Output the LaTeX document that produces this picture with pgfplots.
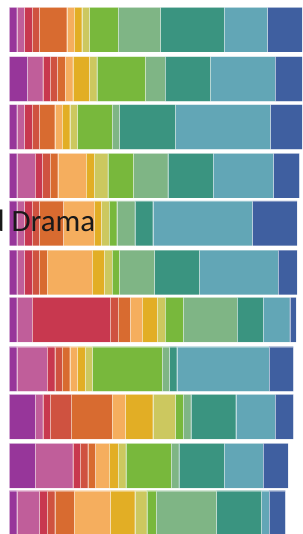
\documentclass[border=0pt]{standalone}
\usepackage{pgfplots}
\usepackage{pgfplotstable}
\pgfplotsset{compat=1.18}
\usepackage{fontspec}
\setmainfont{Carlito}
\definecolor{s1}{HTML}{97369A}
\definecolor{s2}{HTML}{C05E9A}
\definecolor{s3}{HTML}{C8384F}
\definecolor{s4}{HTML}{CF5240}
\definecolor{s5}{HTML}{D86B30}
\definecolor{s6}{HTML}{F5AE5E}
\definecolor{s7}{HTML}{E2AE25}
\definecolor{s8}{HTML}{CCC85F}
\definecolor{s9}{HTML}{78B83C}
\definecolor{s10}{HTML}{7FB585}
\definecolor{s11}{HTML}{3A9480}
\definecolor{s12}{HTML}{62A6B6}
\definecolor{s13}{HTML}{3F5FA0}
\pgfplotstableread{
y c1 c2 c3 c4 c5 c6 c7 c8 c9 c10 c11 c12 c13
29.65 7.4 7.6 7.7 7.3 27.4 7.3 7.7 7.6 28.7 42.3 63.7 43.3 40
79.05 18 15.4 7.3 7.3 7.7 7.7 16.6 7.4 48.6 19.7 45.3 64.7 40
127.05 7.4 7.6 7.7 7.3 15.4 7.3 7.7 7.6 34.7 7.3 56 95 40
175.65 7.4 18.3 7.3 7.7 7.7 28.3 8 13.7 25.6 34.4 45.3 60.3 26
223.35 7.4 7.6 7.7 7.3 24 30.7 7.3 7.7 7.7 18 18 99.6 44.7
272.35 7.4 7.6 7.7 7.3 7.7 45 12.3 7.7 7.3 35 45 78.7 19
319.65 7.4 15.3 78 8 12 12 15 8 18 54 26 26.7 6.3
369.05 7.4 30.3 7.7 7.3 7.7 7.6 7.7 7.3 69.7 7.3 7.4 92.3 24.3
416.65 25.7 7.7 7.3 21 41 13.3 27.4 22.6 7.7 7.7 45 39.3 18.3
465.65 25.7 37.7 7.3 7.7 7.6 13.7 9 7.7 45.3 7.7 45.3 39 25
513.05 7.4 22.6 7.7 7.7 19.3 36.3 24.4 12 9.3 60.3 45 7.7 16.3
}\datatable
\begin{document}
\begin{tikzpicture}
\begin{axis}[
  at={(0,0)}, anchor=south west,
  width=302pt, height=534pt, scale only axis,
  xmin=-9.3, xmax=292.7, ymin=0, ymax=534,
  y dir=reverse,
  axis lines=none,
  xbar stacked,
  bar width=44.7pt,
  clip=true,
  every axis plot/.append style={draw=white, draw opacity=0.35, line width=0.4pt},
]
\pgfplotsinvokeforeach{1,...,13}{
  \addplot[fill=s#1] table[x=c#1, y=y] {\datatable};
}
\end{axis}
\node[anchor=base east, inner sep=0pt, text=black!90] at (95.5pt, 534pt-231.7pt) {\fontsize{31}{37}\selectfont and Drama};
\pgfresetboundingbox
\path[use as bounding box] (0,0) rectangle (302pt,534pt);
\end{tikzpicture}
\end{document}
